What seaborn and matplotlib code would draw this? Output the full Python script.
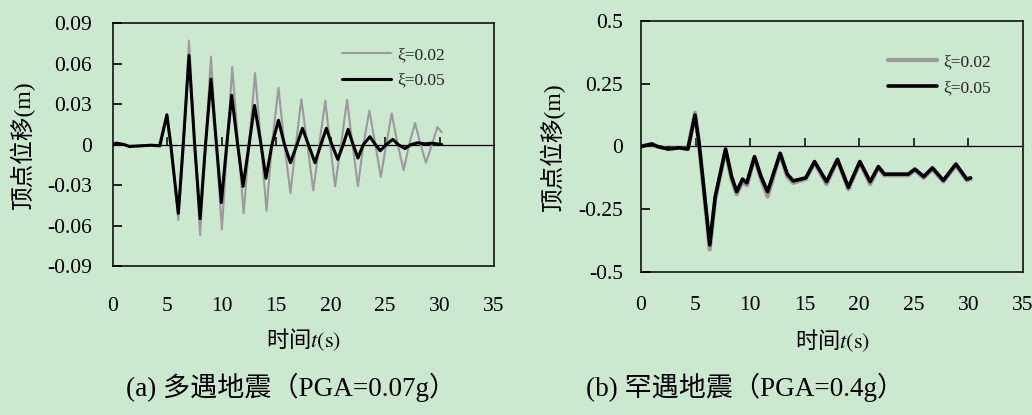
import numpy as np
import pandas as pd
import seaborn as sns
import matplotlib.pyplot as plt

# (a) 多遇地震 - top displacement (peaks, troughs, crossings)
t_a_02 = [0, 0.3, 0.8, 1.5, 3.0, 4.2, 4.95, 5.35, 6.0, 6.5, 6.98, 7.5, 8.0, 8.5, 9.0, 9.5, 10.0,
          10.5, 10.95, 11.5, 12.0, 12.5, 13.05, 13.6, 14.1, 14.6, 15.2, 15.75, 16.3, 16.8, 17.3,
          17.85, 18.4, 18.95, 19.5, 19.95, 20.4, 20.95, 21.5, 22.0, 22.5, 23.0, 23.55, 24.1, 24.6,
          25.1, 25.6, 26.15, 26.7, 27.2, 27.75, 28.25, 28.75, 29.3, 29.8, 30.2]
d_a_02 = [0, 0.0015, 0.0005, -0.001, -0.0005, -0.0008, 0.0225, 0.0, -0.056, 0.0, 0.077, 0.0,
          -0.067, 0.0, 0.065, 0.0, -0.063, 0.0, 0.0575, 0.0, -0.051, 0.0, 0.053, 0.0, -0.049, 0.0,
          0.042, 0.0, -0.036, 0.0, 0.0335, 0.0, -0.034, 0.0, 0.0325, 0.0, -0.031, 0.0, 0.033, 0.0,
          -0.031, 0.0, 0.025, 0.0, -0.024, 0.0, 0.023, 0.0, -0.019, 0.0, 0.016, 0.0, -0.0135, 0.0,
          0.013, 0.009]
t_a_05 = [0, 0.3, 1.0, 1.5, 2.5, 3.5, 4.3, 4.95, 5.3, 6.0, 6.45, 6.98, 7.5, 8.0, 8.5, 9.0, 9.5,
          9.95, 10.45, 10.9, 11.45, 11.95, 12.5, 13.0, 13.6, 14.05, 14.6, 15.2, 15.75, 16.3, 16.9,
          17.4, 17.95, 18.55, 19.1, 19.6, 20.1, 20.65, 21.15, 21.6, 22.05, 22.5, 23.0, 23.6, 24.1,
          24.55, 25.1, 25.7, 26.2, 26.8, 27.4, 28.0, 28.6, 29.3, 30.2]
d_a_05 = [0, 0.001, 0.0, -0.0015, -0.001, -0.0005, -0.001, 0.022, 0.0, -0.051, 0.0, 0.066, 0.0,
          -0.055, 0.0, 0.0485, 0.0, -0.043, 0.0, 0.0365, 0.0, -0.031, 0.0, 0.029, 0.0, -0.025, 0.0,
          0.018, 0.0, -0.0135, 0.0, 0.012, 0.0, -0.0135, 0.0, 0.012, 0.0, -0.011, 0.0, 0.0113, 0.0,
          -0.010, 0.0, 0.0058, 0.0, -0.0046, 0.0, 0.0038, 0.0, -0.003, 0.0, 0.0013, 0.0005, 0.001, 0.0]

# (b) 罕遇地震
t_b = [0, 0.5, 1.0, 1.5, 2.5, 3.5, 4.3, 4.95, 5.3, 5.6, 6.3, 6.8, 7.75, 8.3, 8.77, 9.3, 9.7, 10.4,
       11.0, 11.6, 12.75, 13.4, 13.95, 15.1, 15.9, 17.0, 18.0, 19.0, 20.05, 21.0, 21.75, 22.3, 23.5,
       24.5, 25.1, 25.9, 26.7, 27.7, 28.85, 29.85, 30.2]
d_b_02 = [0, 0.005, 0.01, 0.0, -0.01, -0.005, -0.01, 0.135, 0.02, -0.11, -0.41, -0.21, -0.015,
          -0.13, -0.19, -0.14, -0.155, -0.045, -0.13, -0.2, -0.03, -0.12, -0.145, -0.13, -0.065,
          -0.15, -0.055, -0.17, -0.065, -0.15, -0.085, -0.115, -0.115, -0.115, -0.095, -0.125,
          -0.09, -0.14, -0.075, -0.135, -0.13]
d_b_05 = [0, 0.005, 0.01, 0.0, -0.01, -0.005, -0.01, 0.125, 0.02, -0.1, -0.392, -0.2, -0.01,
          -0.12, -0.18, -0.13, -0.145, -0.04, -0.12, -0.18, -0.027, -0.11, -0.137, -0.125, -0.06,
          -0.14, -0.051, -0.163, -0.06, -0.14, -0.08, -0.11, -0.11, -0.11, -0.09, -0.12, -0.085,
          -0.135, -0.07, -0.13, -0.125]

x_ticks = [0, 5, 10, 15, 20, 25, 30, 35]
y_ticks_a = [0.09, 0.06, 0.03, 0, -0.03, -0.06, -0.09]
y_labels_a = ['0.09', '0.06', '0.03', '0', '-0.03', '-0.06', '-0.09']
y_ticks_b = [0.5, 0.25, 0, -0.25, -0.5]
y_labels_b = ['0.5', '0.25', '0', '-0.25', '-0.5']

bg = '#cce8cf'
sns.set_theme(style='ticks')
plt.rcParams['font.family'] = ['Liberation Serif', 'Noto Sans CJK SC']
plt.rcParams['mathtext.fontset'] = 'stix'
plt.rcParams['axes.axisbelow'] = False

fig = plt.figure(figsize=(10.32, 4.15), dpi=100, facecolor=bg)
ax1 = fig.add_axes([0.1095, 0.359, 0.3692, 0.5855])
ax2 = fig.add_axes([0.6211, 0.3446, 0.3702, 0.6048])


def draw_panel(ax, t02, d02, t05, d05, yticks, ylabels, ylim, lws, xpad, ypad, leg_xy, ylab_x, xlab_y):
    ax.set_facecolor(bg)
    ax.set_axisbelow(False)
    sns.lineplot(x=t02, y=d02, ax=ax, color='#9b9b9b', lw=lws[0], label='ξ=0.02',
                 sort=False, estimator=None)
    sns.lineplot(x=t05, y=d05, ax=ax, color='black', lw=lws[1], label='ξ=0.05',
                 sort=False, estimator=None)
    ax.set_xlim(0, 35)
    ax.set_ylim(*ylim)
    ax.set_xticks(x_ticks)
    ax.set_yticks(yticks, ylabels)
    ax.tick_params(axis='x', bottom=False, length=0, pad=xpad, labelsize=15.5, labelcolor='black')
    ax.tick_params(axis='y', left=True, direction='in', length=6.5, width=1.2, pad=ypad,
                   labelsize=15.5, color='black', labelcolor='black')
    for s in ax.spines.values():
        s.set_visible(True)
        s.set_color('black')
        s.set_linewidth(1.1)

    # x axis line through zero with inward ticks (Excel style)
    zero = ax.secondary_xaxis(0, transform=ax.transData)
    zero.set_xticks(x_ticks[1:-1], [''] * 6)
    zero.tick_params(bottom=True, direction='in', length=5.5, width=1.1, color='black')
    zero.spines['bottom'].set_linewidth(0.9)
    zero.spines['bottom'].set_color('black')

    ax.legend(loc='upper left', bbox_to_anchor=leg_xy, frameon=False, fontsize=12.5,
              handlelength=2.8, handletextpad=0.4, borderpad=0, borderaxespad=0,
              labelspacing=0.55)
    ax.set_ylabel('顶点位移(m)', fontsize=17, color='black')
    ax.yaxis.set_label_coords(ylab_x, 0.5)
    ax.set_xlabel(r'时间$t\mathrm{(s)}$', fontsize=16, family='Noto Sans CJK SC', color='black')
    ax.xaxis.set_label_coords(0.5, xlab_y)


draw_panel(ax1, t_a_02, d_a_02, t_a_05, d_a_05, y_ticks_a, y_labels_a, (-0.09, 0.09),
           (1.5, 2.2), 22.5, 15, (0.601, 0.902), -0.205, -0.25)
draw_panel(ax2, t_b, d_b_02, t_b, d_b_05, y_ticks_b, y_labels_b, (-0.5, 0.5),
           (3.0, 2.6), 17.5, 13, (0.647, 0.868), -0.20, -0.22)

fig.text(291 / 1032, 1 - 387 / 415, '(a) 多遇地震（PGA=0.07g）', ha='center', va='center',
         fontsize=19.5, color='black')
fig.text(745 / 1032, 1 - 387 / 415, '(b) 罕遇地震（PGA=0.4g）', ha='center', va='center',
         fontsize=19.5, color='black')

fig.savefig('out.png', dpi=100, facecolor=bg)
